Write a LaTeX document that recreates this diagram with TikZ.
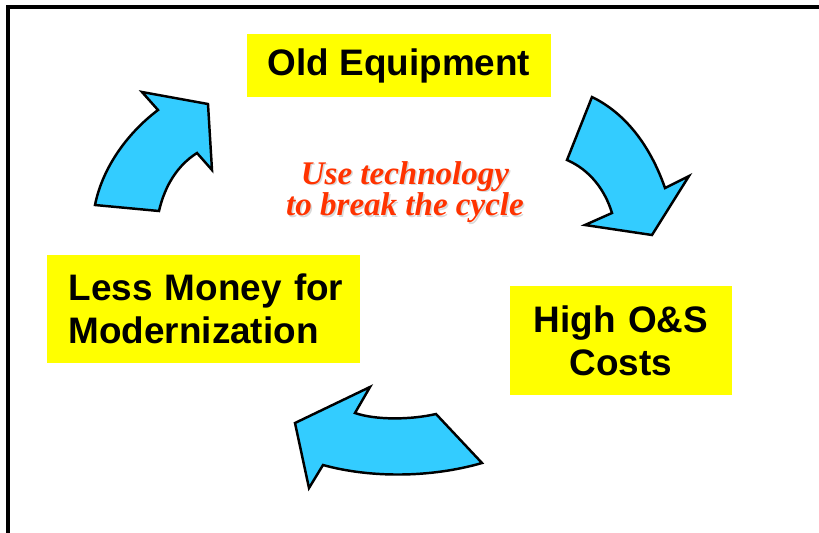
\documentclass[tikz,border=0pt]{standalone}
\usepackage{fontspec}
\setmainfont{Liberation Sans}
\newfontfamily\notefont{Liberation Serif}
\usepackage{xcolor}
\usepackage{tikz}

\begin{document}
\begin{tikzpicture}[x=0.02cm,y=-0.02cm,
  cyclebox/.style={fill=boxcol,inner sep=0pt,font=\fontsize{21}{24.5}\selectfont\bfseries},
  cyclearrow/.style={fill=arrowcol,draw=black,line width=1.4pt,line join=miter}]
% Define colours
\definecolor{boxcol}{RGB}{255,255,0}      % Yellow
\definecolor{arrowcol}{RGB}{51,204,255}   % Sky blue
\definecolor{notecol}{RGB}{255,51,0}      % Orange red

\useasboundingbox (0,0) rectangle (819,532);

% Frame
\draw[line width=1.8pt] (8,545) -- (8,7) -- (830,7);

% Stages of the cycle
\node[cyclebox,minimum width=6.08cm,minimum height=1.26cm] (oldequip) at (399,65.5) {Old Equipment};
\node[cyclebox,text width=4.44cm,minimum height=2.18cm,align=center] (highcost) at (621,340.5) {High O\&S~\\Costs};
\node[cyclebox,text width=5.7cm,inner xsep=0.28cm,minimum height=2.16cm,align=left] (lessmoney) at (203.5,309) {\hspace{0.15cm}Less Money for\\\hspace{0.15cm}Modernization};

% Note in the middle
\node[text=gray!30,font=\notefont\fontsize{18.8}{16}\selectfont\bfseries\itshape,align=center] (breakshadow) at (406.5,193.5) {Use technology\\to break the cycle};
\node[text=notecol,font=\notefont\fontsize{18.8}{16}\selectfont\bfseries\itshape,align=center] (breaktext) at (405,192) {Use technology\\to break the cycle};

% Curved arrows
\draw[cyclearrow] (95,205) -- (159,211) .. controls (165,185) and (178,165) .. (197,153) -- (212,170) -- (208,104) -- (142,92) -- (158,110) .. controls (125,135) and (102,170) .. cycle;
\draw[cyclearrow] (592,97) -- (567,160) .. controls (590,170) and (605,190) .. (612,213) -- (585,225) -- (652,235) -- (689,176) -- (665,188) .. controls (650,145) and (625,113) .. cycle;
\draw[cyclearrow] (436,414) -- (482,463) .. controls (430,478) and (370,478) .. (323,465) -- (309,488) -- (295,423) -- (370,387) -- (355,413) .. controls (375,420) and (410,420) .. cycle;
\end{tikzpicture}
\end{document}
